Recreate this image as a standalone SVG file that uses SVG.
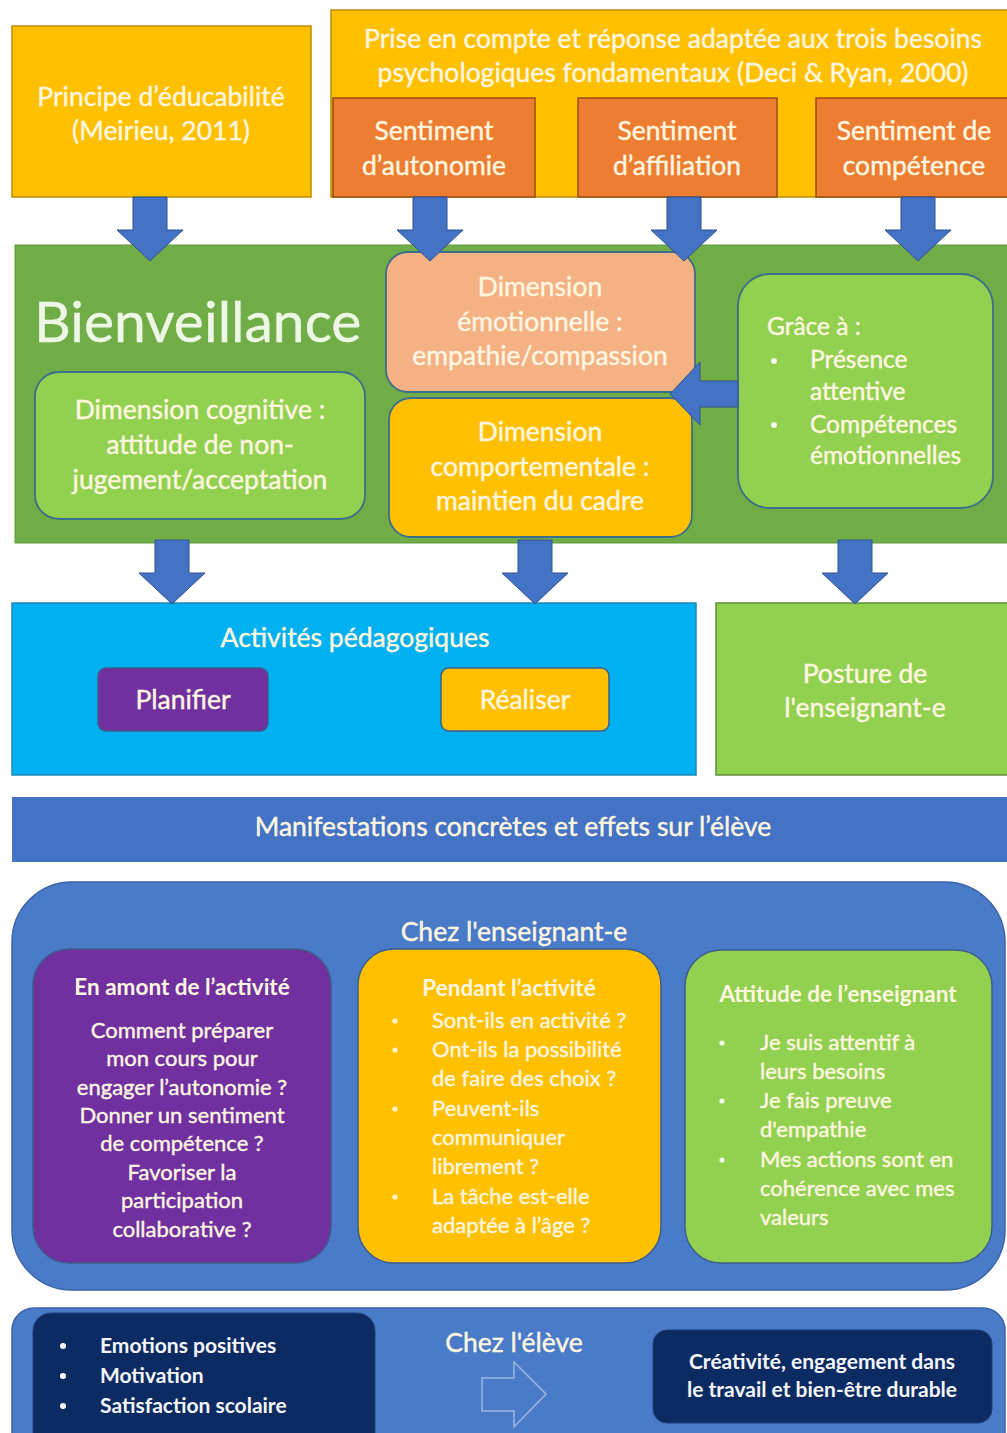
<svg xmlns="http://www.w3.org/2000/svg" xmlns:xlink="http://www.w3.org/1999/xlink" width="1007" height="1433" viewBox="0 0 1007 1433">
<style>
text{font-family:Lato,"Open Sans","Liberation Sans",sans-serif;fill:#FFF6E0;stroke:#FFF6E0;stroke-width:0.4}
.c{text-anchor:middle}
.t23{font-size:26.5px}
.t24{font-size:24.5px}
.t22{font-size:22px}
.tb{font-size:22.5px;font-weight:bold;stroke-width:0}
.tw{font-size:21px;font-weight:bold;fill:#F4F6FA;stroke-width:0}
.yel{fill:#FFC000;stroke:#BC8C00;stroke-width:1.5}
.org{fill:#ED7D31;stroke:#9C4A16;stroke-width:1.5}
.rb{stroke:#3B6E8C;stroke-width:1.8}
.arr{fill:#4472C4;stroke:#2F528F;stroke-width:1}
</style>
<defs>
<path id="darr" d="M-17,0 H17 V33 H33 L0,64 L-33,33 H-17 Z"/>
</defs>
<rect width="1007" height="1433" fill="#FFFFFF"/>

<g id="principe">
<rect class="yel" x="12" y="26" width="299" height="171"/>
<text class="c t23" x="161" y="106">Principe d’éducabilité</text>
<text class="c t23" x="161" y="140">(Meirieu, 2011)</text>
</g>

<g id="besoins">
<rect class="yel" x="331" y="10" width="690" height="187"/>
<text class="c t23" x="673" y="48">Prise en compte et réponse adaptée aux trois besoins</text>
<text class="c t23" x="673" y="82">psychologiques fondamentaux (Deci &amp; Ryan, 2000)</text>
</g>
<g id="autonomie">
<rect class="org" x="333" y="98" width="202" height="99"/>
<text class="c t23" x="434" y="140">Sentiment</text>
<text class="c t23" x="434" y="175">d’autonomie</text>
</g>
<g id="affiliation">
<rect class="org" x="578" y="98" width="199" height="99"/>
<text class="c t23" x="677" y="140">Sentiment</text>
<text class="c t23" x="677" y="175">d’affiliation</text>
</g>
<g id="competence">
<rect class="org" x="816" y="98" width="200" height="99"/>
<text class="c t23" x="914" y="140">Sentiment de</text>
<text class="c t23" x="914" y="175">compétence</text>
</g>

<g id="bienveillance">
<rect x="15" y="245" width="1000" height="298" fill="#70AD47" stroke="#5E9A3A" stroke-width="1"/>
<text x="34" y="342" style="font-size:57px;fill:#EEF7E6;stroke:#EEF7E6">Bienveillance</text>
</g>
<g id="cognitive">
<rect class="rb" x="35" y="372" width="330" height="147" rx="24" fill="#92D050"/>
<text class="c t23" x="200" y="419">Dimension cognitive :</text>
<text class="c t23" x="200" y="454">attitude de non-</text>
<text class="c t23" x="200" y="489">jugement/acceptation</text>
</g>
<g id="emotionnelle">
<rect class="rb" x="386" y="252" width="309" height="140" rx="22" fill="#F4B183"/>
<text class="c t23" x="540" y="296">Dimension</text>
<text class="c t23" x="540" y="331">émotionnelle :</text>
<text class="c t23" x="540" y="365">empathie/compassion</text>
</g>
<g id="comportementale">
<rect class="rb" x="389" y="398" width="303" height="139" rx="22" fill="#FFC000"/>
<text class="c t23" x="540" y="441">Dimension</text>
<text class="c t23" x="540" y="476">comportementale :</text>
<text class="c t23" x="540" y="510">maintien du cadre</text>
</g>
<g id="grace">
<rect class="rb" x="738" y="274" width="255" height="234" rx="32" fill="#92D050"/>
<text class="t24" x="767" y="335">Grâce à :</text>
<circle cx="774" cy="361" r="3" fill="#F2F8EC"/>
<text class="t24" x="810" y="368">Présence</text>
<text class="t24" x="810" y="400">attentive</text>
<circle cx="774" cy="425" r="3" fill="#F2F8EC"/>
<text class="t24" x="810" y="433">Compétences</text>
<text class="t24" x="810" y="464">émotionnelles</text>
</g>

<g id="activites">
<rect x="12" y="603" width="684" height="172" fill="#00B0F0" stroke="#1E88B8" stroke-width="1.5"/>
<text class="c t23" x="355" y="647">Activités pédagogiques</text>
</g>
<g id="planifier">
<rect x="98" y="668" width="170" height="63" rx="8" fill="#7030A0" stroke="#3B5E8C" stroke-width="1.5"/>
<text class="c t23" x="183" y="709">Planifier</text>
</g>
<g id="realiser">
<rect x="441" y="668" width="168" height="63" rx="8" fill="#FFC000" stroke="#3B5E8C" stroke-width="1.5"/>
<text class="c t23" x="525" y="709">Réaliser</text>
</g>
<g id="posture">
<rect x="716" y="603" width="300" height="172" fill="#92D050" stroke="#5E8F3A" stroke-width="1.5"/>
<text class="c t23" x="865" y="683">Posture de</text>
<text class="c t23" x="865" y="717">l'enseignant-e</text>
</g>

<g id="manifestations">
<rect x="12" y="797" width="1005" height="65" fill="#4472C4"/>
<text class="c t23" x="513" y="836">Manifestations concrètes et effets sur l’élève</text>
</g>

<g id="chez-enseignant">
<rect x="12" y="882" width="993" height="408" rx="60" fill="#4A7BC8" stroke="#3B64A8" stroke-width="1.5"/>
<text class="c t23" x="514" y="941">Chez l'enseignant-e</text>
</g>
<g id="amont">
<rect x="33" y="949" width="298" height="314" rx="36" fill="#7030A0" stroke="#3B5E8C" stroke-width="1.5"/>
<text class="c tb" x="182" y="995">En amont de l’activité</text>
<text class="c t22" x="182" y="1038">Comment préparer</text>
<text class="c t22" x="182" y="1066">mon cours pour</text>
<text class="c t22" x="182" y="1095">engager l’autonomie ?</text>
<text class="c t22" x="182" y="1123">Donner un sentiment</text>
<text class="c t22" x="182" y="1151">de compétence ?</text>
<text class="c t22" x="182" y="1180">Favoriser la</text>
<text class="c t22" x="182" y="1208">participation</text>
<text class="c t22" x="182" y="1237">collaborative ?</text>
</g>
<g id="pendant">
<rect x="358" y="949" width="303" height="314" rx="36" fill="#FFC000" stroke="#3B5E8C" stroke-width="1.5"/>
<text class="c tb" x="509" y="996">Pendant l’activité</text>
<circle cx="395" cy="1021" r="2.6" fill="#FFF2CC"/>
<text class="t22" x="432" y="1028">Sont-ils en activité ?</text>
<circle cx="395" cy="1050" r="2.6" fill="#FFF2CC"/>
<text class="t22" x="432" y="1057">Ont-ils la possibilité</text>
<text class="t22" x="432" y="1086">de faire des choix ?</text>
<circle cx="395" cy="1109" r="2.6" fill="#FFF2CC"/>
<text class="t22" x="432" y="1116">Peuvent-ils</text>
<text class="t22" x="432" y="1145">communiquer</text>
<text class="t22" x="432" y="1174">librement ?</text>
<circle cx="395" cy="1197" r="2.6" fill="#FFF2CC"/>
<text class="t22" x="432" y="1204">La tâche est-elle</text>
<text class="t22" x="432" y="1233">adaptée à l’âge ?</text>
</g>
<g id="attitude">
<rect x="685" y="950" width="307" height="313" rx="36" fill="#92D050" stroke="#3B5E8C" stroke-width="1.5"/>
<text class="c tb" x="838" y="1002">Attitude de l’enseignant</text>
<circle cx="722" cy="1043" r="2.6" fill="#F2F8EC"/>
<text class="t22" x="760" y="1050">Je suis attentif à</text>
<text class="t22" x="760" y="1079">leurs besoins</text>
<circle cx="722" cy="1101" r="2.6" fill="#F2F8EC"/>
<text class="t22" x="760" y="1108">Je fais preuve</text>
<text class="t22" x="760" y="1137">d'empathie</text>
<circle cx="722" cy="1160" r="2.6" fill="#F2F8EC"/>
<text class="t22" x="760" y="1167">Mes actions sont en</text>
<text class="t22" x="760" y="1196">cohérence avec mes</text>
<text class="t22" x="760" y="1225">valeurs</text>
</g>

<g id="chez-eleve">
<rect x="12" y="1308" width="993" height="200" rx="22" fill="#4A7BC8" stroke="#3B64A8" stroke-width="1.5"/>
<text class="c t23" x="514" y="1352">Chez l'élève</text>
</g>
<g id="emotions">
<rect x="33" y="1313" width="342" height="140" rx="18" fill="#0C2B62" stroke="#1F3F7A" stroke-width="1"/>
<circle cx="63" cy="1346" r="3" fill="#FFFFFF"/>
<text class="tw" x="100" y="1353">Emotions positives</text>
<circle cx="63" cy="1376" r="3" fill="#FFFFFF"/>
<text class="tw" x="100" y="1383">Motivation</text>
<circle cx="63" cy="1406" r="3" fill="#FFFFFF"/>
<text class="tw" x="100" y="1413">Satisfaction scolaire</text>
</g>
<g id="creativite">
<rect x="653" y="1330" width="339" height="93" rx="14" fill="#0C2B62" stroke="#1F3F7A" stroke-width="1"/>
<text class="c tw" x="822" y="1369">Créativité, engagement dans</text>
<text class="c tw" x="822" y="1397">le travail et bien-être durable</text>
</g>

<g id="connectors">
<use xlink:href="#darr" class="arr" x="150" y="197"/>
<use xlink:href="#darr" class="arr" x="430" y="197"/>
<use xlink:href="#darr" class="arr" x="684" y="197"/>
<use xlink:href="#darr" class="arr" x="918" y="197"/>
<path class="arr" d="M738,381 H700 V362 L670,394 L700,425 V407 H738 Z"/>
<use xlink:href="#darr" class="arr" x="172" y="540"/>
<use xlink:href="#darr" class="arr" x="535" y="540"/>
<use xlink:href="#darr" class="arr" x="855" y="540"/>
<path d="M482,1378 H514 V1362 L546,1394 L514,1427 V1411 H482 Z" fill="none" stroke="#9DB6E0" stroke-width="1.5"/>
</g>
</svg>
